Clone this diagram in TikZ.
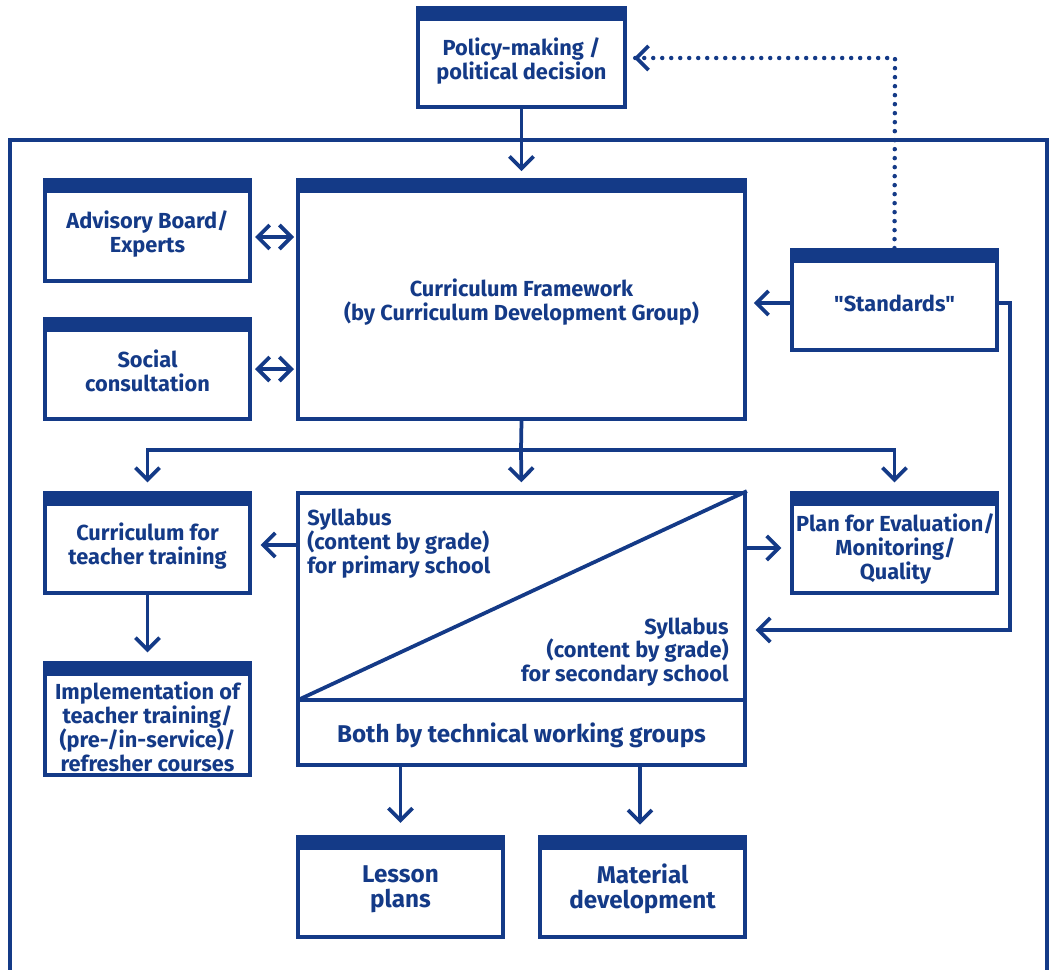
\documentclass[tikz,border=0pt]{standalone}
\usepackage{fontspec}
\setmainfont{Fira Sans}[Ligatures=TeXOff]
\usetikzlibrary{arrows.meta,fit}
\definecolor{navy}{RGB}{20,58,135}
\tikzset{
  lw/.style={line width=0.075cm},
  box/.style={draw=navy, lw, inner sep=0pt},
  txt/.style={text=navy, font=\bfseries\fontsize{12.4}{13.6}\selectfont, align=center, inner sep=0pt},
  big/.style={text=navy, font=\bfseries\fontsize{13.8}{14.4}\selectfont, align=center, inner sep=0pt},
  conn/.style={draw=navy, lw},
  tip/.tip={Straight Barb[length=2.4mm,width=4.8mm,line width=0.075cm]},
  arr/.style={conn, -tip},
  darr/.style={conn, tip-tip},
  dotline/.style={draw=navy, line width=0.09cm, line cap=round, dash pattern=on 0pt off 0.18cm}
}
\begin{document}
\begin{tikzpicture}[x=0.02cm,y=-0.02cm]
\useasboundingbox (0,0) rectangle (1056,970);
% outer frame (open at bottom)
\draw[conn] (10,975) -- (10,140) -- (1047,140) -- (1047,975);
% corner coordinates
\coordinate (polA) at (418,8);   \coordinate (polB) at (625,107);
\coordinate (advA) at (45,180);  \coordinate (advB) at (250,281);
\coordinate (socA) at (45,319);  \coordinate (socB) at (250,419);
\coordinate (cfA) at (298,180);  \coordinate (cfB) at (745,419);
\coordinate (stdA) at (792,250); \coordinate (stdB) at (997,350);
\coordinate (cttA) at (45,493);  \coordinate (cttB) at (250,593);
\coordinate (sylA) at (298,493); \coordinate (sylB) at (745,765);
\coordinate (planA) at (792,493);\coordinate (planB) at (997,593);
\coordinate (implA) at (45,663); \coordinate (implB) at (250,775);
\coordinate (lesA) at (298,837); \coordinate (lesB) at (503,937);
\coordinate (matA) at (540,837); \coordinate (matB) at (745,937);
% boxes
\foreach \n in {pol,adv,soc,cf,std,ctt,syl,plan,impl,les,mat}
  \node[box, fit=(\n A)(\n B)] (\n) {};
% header bars
\foreach \n in {pol,adv,soc,cf,std,ctt,plan,impl,les,mat}
  \fill[navy] (\n.north west) rectangle ([yshift=-0.3cm]\n.north east);
% syllabus inner lines
\coordinate (divl) at (298,700);
\coordinate (divr) at (745,700);
\draw[conn] (divl) -- (divr);
\draw[conn] (divl) -- (syl.north east);
% texts
\node[txt] (polt) at (521.5,61) {Policy-making /\\political decision};
\node[txt] (advt) at (147.5,234) {Advisory Board/\\Experts};
\node[txt] (soct) at (147.5,371) {Social\\consultation};
\node[txt] (cft) at (521.5,302) {Curriculum Framework\\(by Curriculum Development Group)};
\node[txt] (stdt) at (894.5,303) {"Standards"};
\node[txt] (cttt) at (147.5,546) {Curriculum for\\teacher training};
\node[txt] (plant) at (895.5,549) {Plan for Evaluation/\\Monitoring/\\Quality};
\node[txt] (implt) at (147.5,727) {Implementation of\\teacher training/\\(pre-/in-service)/\\refresher courses};
\node[txt, align=left, anchor=north west] (prim) at (307,509) {Syllabus\\(content by grade)\\for primary school};
\node[txt, align=right, anchor=south east] (sec) at (729,687) {Syllabus\\(content by grade)\\for secondary school};
\node[big] (both) at (521.5,735) {Both by technical working groups};
\node[big] (lest) at (400.5,889) {Lesson\\plans};
\node[big] (matt) at (642.5,889) {Material\\development};
% helper coordinates
\coordinate (dotc) at (895,58);
\coordinate (dots) at (634,58);
\coordinate (split) at (521,450);
\coordinate (rt) at (1010,303);
\coordinate (rb) at (1010,630);
\coordinate (ly) at (0,545);
\coordinate (ry) at (0,548);
\coordinate (mtop) at (640,765);
\coordinate (mbot) at (640,837);
\coordinate (dal) at (255,237);  \coordinate (dar) at (294,237);
\coordinate (dbl) at (255,369);  \coordinate (dbr) at (294,369);
% connectors
\draw[arr, shorten >=4pt] (pol.south) -- (cf.north);
\draw[darr] (dal) -- (dar);
\draw[darr] (dbl) -- (dbr);
\draw[arr, shorten >=4pt] (std.west |- stdt) -- (cf.east |- stdt);
\draw[dotline] (std.north) -- (dotc) -- (dots);
\draw[arr, shorten >=4pt] (dots) -- (pol.east |- dotc);
\draw[conn] (cf.south) -- (split);
\draw[arr, shorten >=5pt] (split) -- (syl.north);
\draw[arr, shorten >=5pt] (split) -| (ctt.north);
\draw[arr, shorten >=5pt] (split) -| (plan.north);
\draw[arr, shorten >=5pt] (std.east |- rt) -- (rt) -- (rb) -- (syl.east |- rb);
\draw[arr, shorten >=5pt] (syl.west |- ly) -- (ctt.east |- ly);
\draw[arr, shorten >=5pt] (syl.east |- ry) -- (plan.west |- ry);
\draw[arr, shorten >=5pt] (ctt.south) -- (impl.north);
\draw[arr, shorten >=7pt] (syl.south -| les.north) -- (les.north);
\draw[arr, shorten >=7pt] (mtop) -- (mbot);
\end{tikzpicture}
\end{document}
